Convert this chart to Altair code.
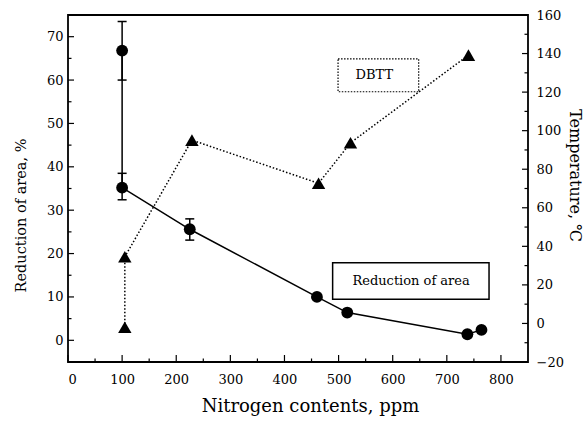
import altair as alt
import pandas as pd

# Reduction of area (%) vs nitrogen content
ra_n = [100, 100, 225, 460, 516, 738, 764]
ra_val = [66.8, 35.2, 25.6, 10.0, 6.4, 1.4, 2.4]

# scatter bands on reduction of area
err_n = [100, 100, 225]
err_lo = [60.0, 32.4, 23.1]
err_hi = [73.5, 38.5, 28.0]

# ductile-brittle transition temperature (deg C)
dbtt_n = [105, 105, 229, 463, 522, 740]
dbtt_val = [-2, 34.6, 95.1, 72.7, 93.7, 139.2]

x_ticks = list(range(0, 900, 100))
x_minor = list(range(50, 850, 100))
left_ticks = list(range(0, 80, 10))
left_minor = list(range(-5, 80, 10))
right_ticks = list(range(-20, 180, 20))
right_minor = list(range(-10, 160, 20))

# annotation boxes (data coordinates, left scale)
box_x = [489, 499]
box_x2 = [778, 648]
box_y = [9.45, 57.3]
box_y2 = [17.9, 64.9]
box_label = ["Reduction of area", "DBTT"]
label_x = [634, 566]
label_y = [13.7, 61.1]

W, H = 460, 347
FONT = "DejaVu Serif"

ra = pd.DataFrame({"n": ra_n, "v": ra_val, "order": range(len(ra_n))})
err = pd.DataFrame({"n": err_n, "lo": err_lo, "hi": err_hi})
dbtt = pd.DataFrame({"n": dbtt_n, "v": dbtt_val, "order": range(len(dbtt_n))})

xs = alt.Scale(domain=[0, 850], nice=False, zero=False)
ys_left = alt.Scale(domain=[-5, 75], nice=False, zero=False)
ys_right = alt.Scale(domain=[-20, 160], nice=False, zero=False)

x_axis = alt.Axis(values=x_ticks, ticks=False, domain=False, grid=False,
                  labelPadding=11, labelOverlap=False,
                  title="Nitrogen contents, ppm", titleFontSize=18,
                  titlePadding=11, titleX=242)
y_left_axis = alt.Axis(values=left_ticks, ticks=False, domain=False, grid=False,
                       orient="left", labelPadding=5, labelOverlap=False,
                       title="Reduction of area, %", titleFontSize=14.5,
                       titlePadding=18, titleY=200)
y_right_axis = alt.Axis(values=right_ticks, ticks=False, domain=False, grid=False,
                        orient="right", labelPadding=8, labelOverlap=False,
                        title="Temperature, ℃", titleFontSize=16,
                        titlePadding=3, titleY=160)


# every layer carries the same axis definition so the merged axes agree
def xq(field):
    return alt.X(field, type="quantitative", scale=xs, axis=x_axis)


def yl(field):
    return alt.Y(field, type="quantitative", scale=ys_left, axis=y_left_axis)


def yr(field):
    return alt.Y(field, type="quantitative", scale=ys_right, axis=y_right_axis)


# --- left-scale layers ---
ra_line = alt.Chart(ra).mark_line(color="black", strokeWidth=1.5).encode(
    x=xq("n"), y=yl("v"), order="order:Q"
)
err_rule = alt.Chart(err).mark_rule(color="black", strokeWidth=1.5).encode(
    x=xq("n"), y=yl("lo"), y2="hi:Q"
)
cap_lo = alt.Chart(err).mark_rule(color="black", strokeWidth=1.5, xOffset=-4.5, x2Offset=4.5).encode(
    x=xq("n"), x2="n:Q", y=yl("lo")
)
cap_hi = alt.Chart(err).mark_rule(color="black", strokeWidth=1.5, xOffset=-4.5, x2Offset=4.5).encode(
    x=xq("n"), x2="n:Q", y=yl("hi")
)
ra_pts = alt.Chart(ra).mark_point(shape="circle", filled=True, color="black",
                                  size=140, opacity=1).encode(x=xq("n"), y=yl("v"))

boxes = pd.DataFrame({"x": box_x, "x2": box_x2, "y": box_y, "y2": box_y2,
                      "label": box_label, "lx": label_x, "ly": label_y})
box_ra = alt.Chart(boxes.iloc[[0]]).mark_rect(fill="white", stroke="black", strokeWidth=1.5).encode(
    x=xq("x"), x2="x2:Q", y=yl("y"), y2="y2:Q"
)
box_dbtt = alt.Chart(boxes.iloc[[1]]).mark_rect(fill="white", stroke="black", strokeWidth=1.2,
                                                strokeDash=[1.5, 1.5]).encode(
    x=xq("x"), x2="x2:Q", y=yl("y"), y2="y2:Q"
)
box_text = alt.Chart(boxes).mark_text(font=FONT, fontSize=13, color="black").encode(
    x=xq("lx"), y=yl("ly"), text="label:N"
)

# inward tick marks
x_major = alt.Chart(pd.DataFrame({"t": x_ticks})).mark_rule(color="black", strokeWidth=1.2).encode(
    x=xq("t"), y=alt.value(H), y2=alt.value(H - 7)
)
x_minor_m = alt.Chart(pd.DataFrame({"t": x_minor})).mark_rule(color="black", strokeWidth=1.2).encode(
    x=xq("t"), y=alt.value(H), y2=alt.value(H - 3.5)
)
l_major = alt.Chart(pd.DataFrame({"t": left_ticks})).mark_rule(color="black", strokeWidth=1.2).encode(
    y=yl("t"), x=alt.value(0), x2=alt.value(6)
)
l_minor = alt.Chart(pd.DataFrame({"t": left_minor})).mark_rule(color="black", strokeWidth=1.2).encode(
    y=yl("t"), x=alt.value(0), x2=alt.value(3.5)
)

left = alt.layer(ra_line, box_dbtt, err_rule, cap_lo, cap_hi, ra_pts, box_ra, box_text,
                 x_major, x_minor_m, l_major, l_minor)

# --- right-scale layers ---
dbtt_line = alt.Chart(dbtt).mark_line(color="black", strokeWidth=1.5, strokeDash=[1.5, 2]).encode(
    x=xq("n"), y=yr("v"), order="order:Q"
)
dbtt_pts = alt.Chart(dbtt).mark_point(shape="triangle-up", filled=True, color="black",
                                      size=180, opacity=1).encode(x=xq("n"), y=yr("v"))
r_major = alt.Chart(pd.DataFrame({"t": right_ticks})).mark_rule(color="black", strokeWidth=1.2).encode(
    y=yr("t"), x=alt.value(W), x2=alt.value(W - 6)
)
r_minor = alt.Chart(pd.DataFrame({"t": right_minor})).mark_rule(color="black", strokeWidth=1.2).encode(
    y=yr("t"), x=alt.value(W), x2=alt.value(W - 3.5)
)
right = alt.layer(dbtt_line, dbtt_pts, r_major, r_minor)

chart = (
    alt.layer(left, right)
    .resolve_scale(y="independent")
    .properties(
        width=W, height=H,
        padding={"left": 68, "top": 15, "right": 59, "bottom": 60},
        autosize=alt.AutoSizeParams(type="none"),
        background="white",
    )
    .configure_view(stroke="black", strokeWidth=1.8)
    .configure_axis(labelFont=FONT, labelFontSize=13, labelColor="black",
                    titleFont=FONT, titleFontWeight="normal", titleColor="black")
)

chart.save("out.html", embed_options={"renderer": "svg", "actions": False})
